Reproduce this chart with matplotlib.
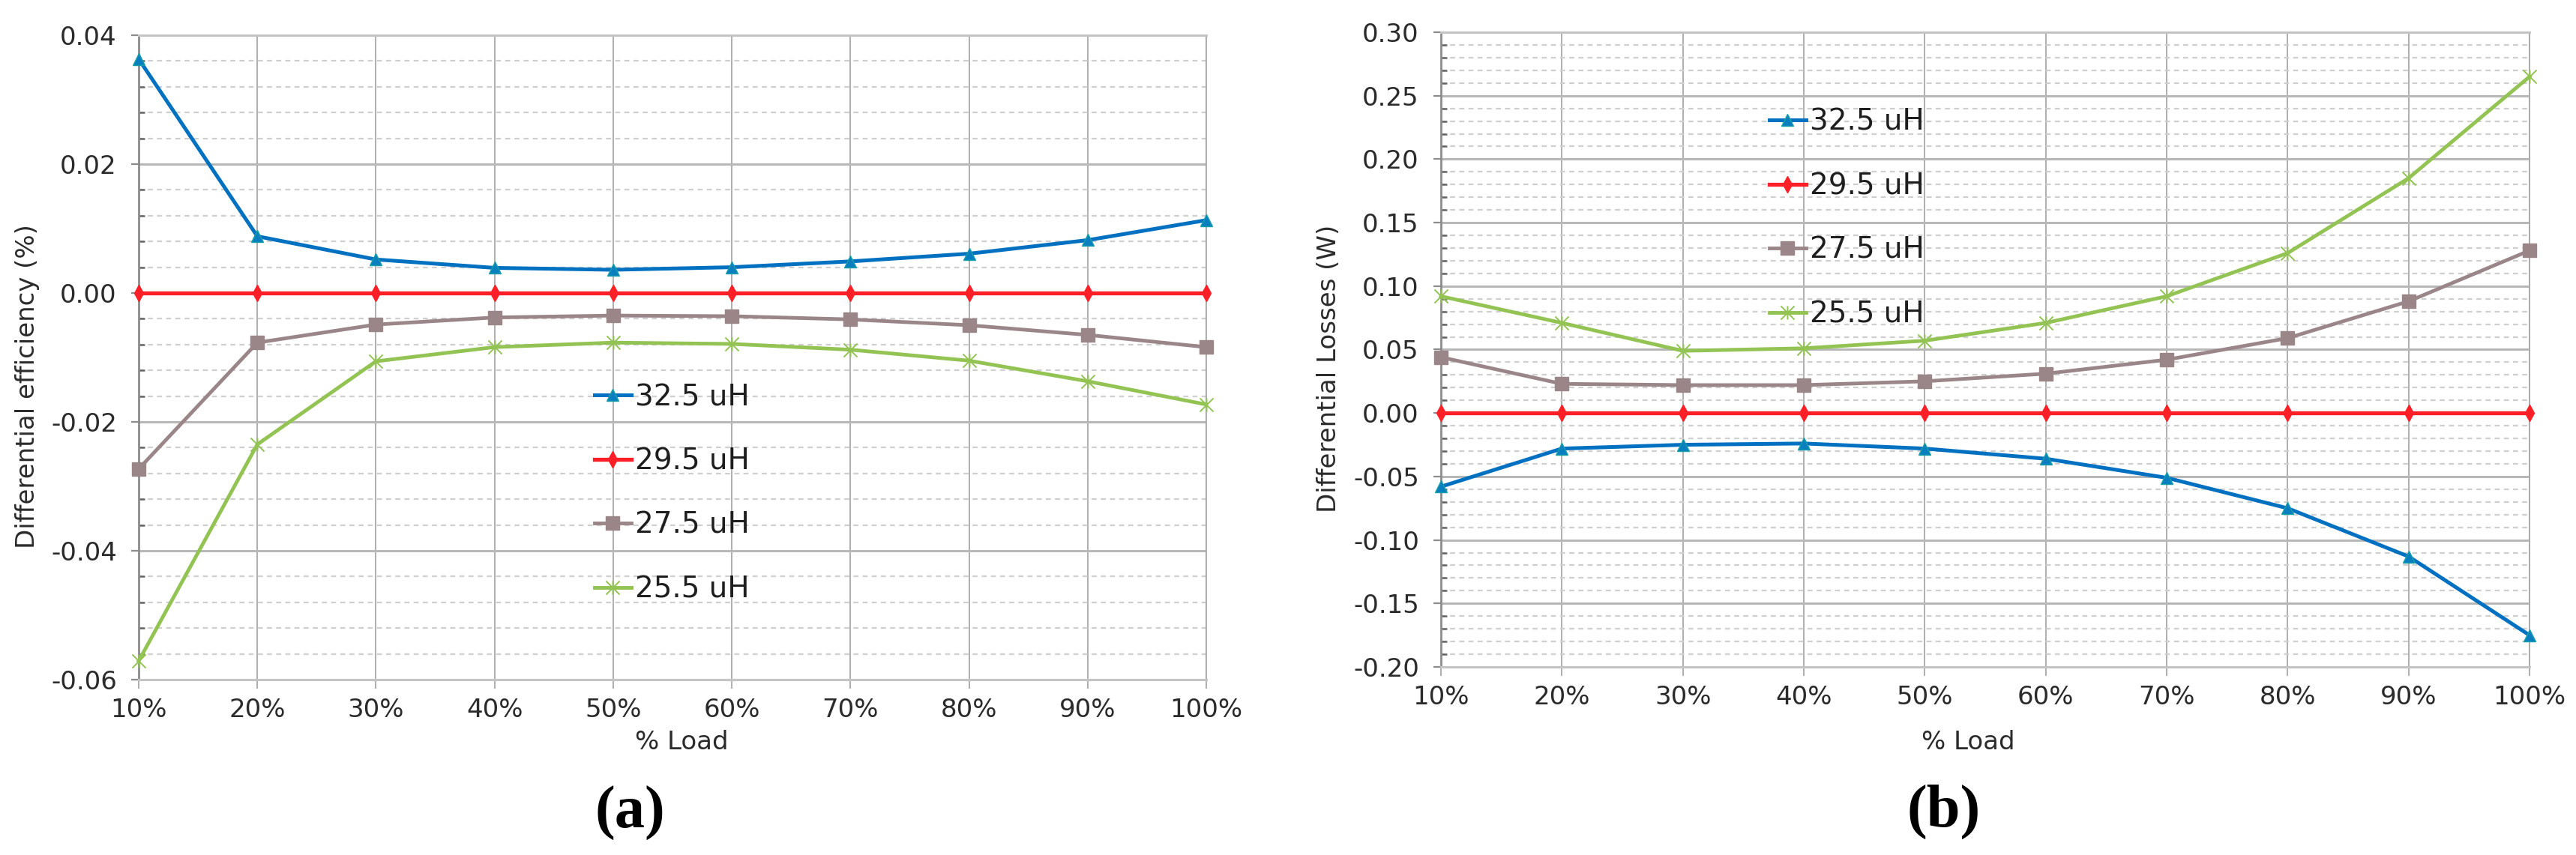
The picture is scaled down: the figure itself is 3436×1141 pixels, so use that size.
"""Differential efficiency and losses vs. load for four inductance values."""

from __future__ import annotations

import matplotlib

matplotlib.use("Agg")

import matplotlib.pyplot as plt
from matplotlib.path import Path as MPath
from matplotlib.ticker import FuncFormatter, MultipleLocator

LOAD_LABELS = ["10%", "20%", "30%", "40%", "50%", "60%", "70%", "80%", "90%", "100%"]
SERIES_NAMES = ["32.5 uH", "29.5 uH", "27.5 uH", "25.5 uH"]

# (a) differential efficiency (%)
EFF_325 = [0.0363, 0.0088, 0.0052, 0.0039, 0.0036, 0.0040, 0.0049, 0.0061, 0.0082, 0.0113]
EFF_295 = [0.0, 0.0, 0.0, 0.0, 0.0, 0.0, 0.0, 0.0, 0.0, 0.0]
EFF_275 = [-0.0273, -0.0077, -0.0049, -0.0038, -0.0035, -0.0036, -0.0041, -0.0050, -0.0065, -0.0084]
EFF_255 = [-0.0571, -0.0235, -0.0106, -0.0084, -0.0077, -0.0079, -0.0088, -0.0105, -0.0137, -0.0173]

# (b) differential losses (W)
LOSS_325 = [-0.058, -0.028, -0.025, -0.024, -0.028, -0.036, -0.051, -0.075, -0.113, -0.175]
LOSS_295 = [0.0, 0.0, 0.0, 0.0, 0.0, 0.0, 0.0, 0.0, 0.0, 0.0]
LOSS_275 = [0.044, 0.023, 0.022, 0.022, 0.025, 0.031, 0.042, 0.059, 0.088, 0.128]
LOSS_255 = [0.092, 0.071, 0.049, 0.051, 0.057, 0.071, 0.092, 0.126, 0.185, 0.265]

W_PX, H_PX = 3436, 1141
TEXT_COLOR = "#2b2b2b"

# Excel-like "star" marker: an x with a short vertical bar
STAR = MPath(
    [(-1, -1), (1, 1), (-1, 1), (1, -1), (0, -1), (0, 1)],
    [MPath.MOVETO, MPath.LINETO, MPath.MOVETO, MPath.LINETO, MPath.MOVETO, MPath.LINETO],
)

STYLES = [
    dict(color="#0070C0", marker="^", markersize=11, markerfacecolor="#0A7FBF",
         markeredgecolor="#17A0A8", markeredgewidth=1.0, linewidth=3.6),
    dict(color="#FF1F26", marker="d", markersize=11, markerfacecolor="#FF1F26",
         markeredgecolor="#FF1F26", linewidth=3.8),
    dict(color="#9A8689", marker="s", markersize=13, markerfacecolor="#9A8689",
         markeredgecolor="#9A8689", linewidth=3.5),
    dict(color="#92C353", marker=STAR, markersize=13, markerfacecolor="none",
         markeredgecolor="#92C353", markeredgewidth=1.4, linewidth=3.5),
]


def fx(px: float) -> float:
    return px / W_PX


def fy(py: float) -> float:
    return 1.0 - py / H_PX


def fmt2(v: float, _pos) -> str:
    v = round(v, 2) + 0.0
    return f"{v:.2f}"


def style_axes(ax, ymin: float, ymax: float, major: float, minor: float) -> None:
    x = range(len(LOAD_LABELS))
    ax.set_xlim(0, len(LOAD_LABELS) - 1)
    ax.set_ylim(ymin, ymax)
    ax.set_xticks(list(x))
    ax.set_xticklabels(LOAD_LABELS)
    ax.yaxis.set_major_locator(MultipleLocator(major))
    ax.yaxis.set_minor_locator(MultipleLocator(minor))
    ax.yaxis.set_major_formatter(FuncFormatter(fmt2))

    ax.grid(which="major", axis="y", color="#b8b8b8", linewidth=2.2)
    ax.grid(which="minor", axis="y", color="#cfcfcf", linewidth=1.6, linestyle=(0, (3, 2.5)))
    ax.grid(which="major", axis="x", color="#a8a8a8", linewidth=1.3)
    ax.set_axisbelow(True)

    for side in ("top", "bottom"):
        ax.spines[side].set_color("#c4c4c4")
        ax.spines[side].set_linewidth(2.2)
    ax.spines["right"].set_color("#a8a8a8")
    ax.spines["right"].set_linewidth(1.3)
    ax.spines["left"].set_color("#8c8c8c")
    ax.spines["left"].set_linewidth(2.0)

    ax.tick_params(axis="y", which="major", direction="out", length=7, width=1.6,
                   color="#8c8c8c", labelsize=24.5, labelcolor=TEXT_COLOR, pad=14)
    ax.tick_params(axis="y", which="minor", direction="in", length=5.5, width=1.8,
                   color="#666666")
    ax.tick_params(axis="x", which="major", direction="out", length=8.5, width=1.3,
                   color="#a8a8a8", labelsize=24.5, labelcolor=TEXT_COLOR, pad=9)


def draw_series(ax, series: list[list[float]]):
    x = range(len(LOAD_LABELS))
    handles = []
    for values, name, style in zip(series, SERIES_NAMES, STYLES):
        (line,) = ax.plot(list(x), values, label=name, clip_on=False, zorder=3, **style)
        handles.append(line)
    return handles


def add_legend(ax, handles, x_px: float, y_px: float) -> None:
    ax.legend(
        handles=handles,
        loc="upper left",
        bbox_to_anchor=(fx(x_px), fy(y_px)),
        bbox_transform=ax.figure.transFigure,
        frameon=False,
        fontsize=28,
        numpoints=1,
        handlelength=1.25,
        handletextpad=0.15,
        labelspacing=1.22,
        borderpad=0,
        borderaxespad=0,
        labelcolor="#1e1e1e",
    )


def main() -> None:
    plt.rcParams["font.family"] = ["DejaVu Sans"]
    fig = plt.figure(figsize=(W_PX / 100, H_PX / 100), dpi=100, facecolor="white")

    # (a) efficiency panel
    ax_a = fig.add_axes([fx(185), fy(907), fx(1609 - 185), (907 - 47) / H_PX])
    style_axes(ax_a, -0.06, 0.04, 0.02, 0.004)
    handles = draw_series(ax_a, [EFF_325, EFF_295, EFF_275, EFF_255])
    add_legend(ax_a, handles, 793, 511)

    # (b) losses panel
    ax_b = fig.add_axes([fx(1922), fy(890), fx(3374 - 1922), (890 - 43) / H_PX])
    style_axes(ax_b, -0.20, 0.30, 0.05, 0.01)
    handles = draw_series(ax_b, [LOSS_325, LOSS_295, LOSS_275, LOSS_255])
    add_legend(ax_b, handles, 2360, 144)

    label_kw = dict(fontsize=24.5, color=TEXT_COLOR, ha="center", va="center")
    fig.text(fx(37), fy(516), "Differential efficiency (%)", rotation=90, **label_kw)
    fig.text(fx(1773), fy(492), "Differential Losses (W)", rotation=90, **label_kw)
    fig.text(fx(909), fy(991), "% Load", **label_kw)
    fig.text(fx(2625), fy(990), "% Load", **label_kw)

    panel_kw = dict(fontsize=58, fontweight="bold", family=["Liberation Serif", "DejaVu Serif"],
                    color="black", ha="center", va="center")
    fig.text(fx(840), fy(1085), "(a)", **panel_kw)
    fig.text(fx(2593), fy(1083), "(b)", **panel_kw)

    fig.savefig("out.png", dpi=100, facecolor="white")
    plt.close(fig)


if __name__ == "__main__":
    main()
